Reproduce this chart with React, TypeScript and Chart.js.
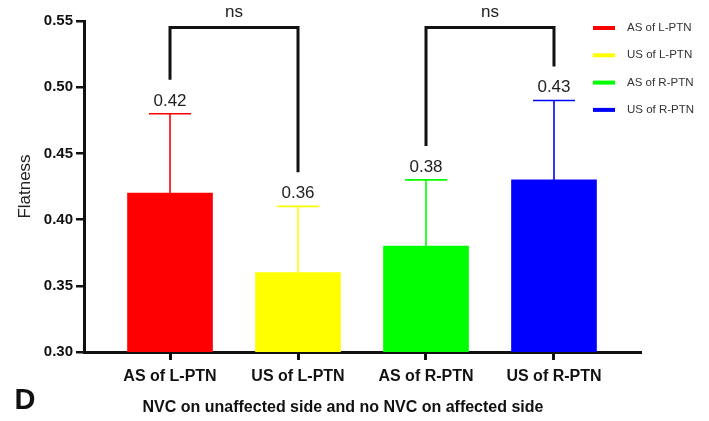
import React, { useEffect, useRef } from "react";
import { Chart, registerables } from "chart.js";

Chart.register(...registerables);

const categories = ["AS of L-PTN", "US of L-PTN", "AS of R-PTN", "US of R-PTN"];
const means = [0.42, 0.36, 0.38, 0.43];
const errors = [0.06, 0.05, 0.05, 0.06];
const colors = ["#ff0000", "#ffff00", "#00ff00", "#0000ff"];
const comparisons: [number, number, string][] = [
  [0, 1, "ns"],
  [2, 3, "ns"],
];
const bracketTop = 0.545;
const yTicks = [0.3, 0.35, 0.4, 0.45, 0.5, 0.55];
const yTitle = "Flatness";
const xTitle = "NVC on unaffected side and no NVC on affected side";
const panelLetter = "D";

const FONT = "Arial, 'Liberation Sans', sans-serif";

const overlayPlugin = {
  id: "overlay",
  afterDatasetsDraw(chart: any) {
    const ctx = chart.ctx;
    const x = chart.scales.x;
    const y = chart.scales.y;
    const area = chart.chartArea;
    ctx.save();
    // error bars + value labels
    means.forEach((m, i) => {
      const cx = x.getPixelForValue(i);
      const yTop = y.getPixelForValue(m + errors[i]);
      const yBar = y.getPixelForValue(m);
      ctx.strokeStyle = colors[i];
      ctx.lineWidth = 1.6;
      ctx.beginPath();
      ctx.moveTo(cx, yBar);
      ctx.lineTo(cx, yTop);
      ctx.moveTo(cx - 21, yTop);
      ctx.lineTo(cx + 21, yTop);
      ctx.stroke();
      ctx.fillStyle = "#222";
      ctx.font = `17px ${FONT}`;
      ctx.textAlign = "center";
      ctx.textBaseline = "alphabetic";
      ctx.fillText(m.toFixed(2), cx, yTop - 8);
    });
    // brackets
    comparisons.forEach(([a, b, label]) => {
      const xa = x.getPixelForValue(a);
      const xb = x.getPixelForValue(b);
      const yt = y.getPixelForValue(bracketTop);
      const ya = y.getPixelForValue(means[a] + errors[a]) - 34;
      const yb = y.getPixelForValue(means[b] + errors[b]) - 34;
      ctx.strokeStyle = "#111";
      ctx.lineWidth = 3;
      ctx.lineJoin = "miter";
      ctx.beginPath();
      ctx.moveTo(xa, ya);
      ctx.lineTo(xa, yt);
      ctx.lineTo(xb, yt);
      ctx.lineTo(xb, yb);
      ctx.stroke();
      ctx.fillStyle = "#222";
      ctx.font = `17px ${FONT}`;
      ctx.textAlign = "center";
      ctx.textBaseline = "alphabetic";
      ctx.fillText(label, (xa + xb) / 2, yt - 11);
    });
    // legend
    categories.forEach((c, i) => {
      const ly = area.top + 7 + i * 27.3;
      const lx = area.right - 47;
      ctx.fillStyle = colors[i];
      ctx.fillRect(lx, ly - 2, 22, 4);
      ctx.fillStyle = "#333";
      ctx.font = `11.5px ${FONT}`;
      ctx.textAlign = "left";
      ctx.textBaseline = "middle";
      ctx.fillText(c, lx + 34, ly);
    });
    // bottom title and panel letter
    ctx.fillStyle = "#111";
    ctx.font = `bold 16px ${FONT}`;
    ctx.textAlign = "center";
    ctx.textBaseline = "middle";
    ctx.fillText(xTitle, 343, area.bottom + 56);
    ctx.font = `bold 29px ${FONT}`;
    ctx.fillText(panelLetter, 25, area.bottom + 49);
    ctx.restore();
  },
};

export default function App() {
  const ref = useRef<HTMLCanvasElement | null>(null);
  useEffect(() => {
    if (!ref.current) return;
    const chart = new Chart(ref.current, {
      type: "bar",
      data: {
        datasets: [
          {
            data: means.map((m, i) => ({ x: i, y: m })),
            backgroundColor: colors,
            borderWidth: 0,
            barThickness: 85,
          },
        ],
      },
      options: {
        animation: false,
        responsive: false,
        layout: { padding: { top: 21, right: 69, left: 0, bottom: 0 } },
        plugins: { legend: { display: false }, tooltip: { enabled: false } },
        scales: {
          x: {
            type: "linear",
            offset: false,
            min: -0.672,
            max: 3.672,
            afterBuildTicks: (s: any) => {
              s.ticks = categories.map((_, i) => ({ value: i }));
            },
            afterFit: (s: any) => {
              s.height = 69;
            },
            ticks: {
              callback: (v: any) => categories[v] ?? "",
              color: "#111",
              font: { family: FONT, size: 16, weight: "bold" },
              padding: 7,
              maxRotation: 0,
              autoSkip: false,
            },
            grid: {
              offset: false,
              drawOnChartArea: false,
              drawTicks: true,
              tickLength: 8,
              color: "#111",
              lineWidth: 3,
            },
            border: { color: "#111", width: 3 },
          },
          y: {
            min: 0.3,
            max: 0.55,
            afterBuildTicks: (s: any) => {
              s.ticks = yTicks.map((v) => ({ value: v }));
            },
            afterFit: (s: any) => {
              s.width = 84;
            },
            ticks: {
              callback: (v: any) => Number(v).toFixed(2),
              color: "#111",
              font: { family: FONT, size: 15, weight: "bold" },
              padding: 3,
            },
            grid: {
              drawOnChartArea: false,
              drawTicks: true,
              tickLength: 8,
              color: "#111",
              lineWidth: 2.5,
            },
            border: { color: "#111", width: 3 },
            title: {
              display: true,
              text: yTitle,
              color: "#222",
              font: { family: FONT, size: 17, weight: "normal" },
              padding: { top: 15, bottom: 0 },
            },
          },
        },
      },
      plugins: [overlayPlugin],
    } as any);
    return () => chart.destroy();
  }, []);
  return (
    <div style={{ position: "absolute", left: 0, top: 0, width: 709, height: 421, background: "#fff" }}>
      <canvas ref={ref} width={709} height={421} />
    </div>
  );
}
